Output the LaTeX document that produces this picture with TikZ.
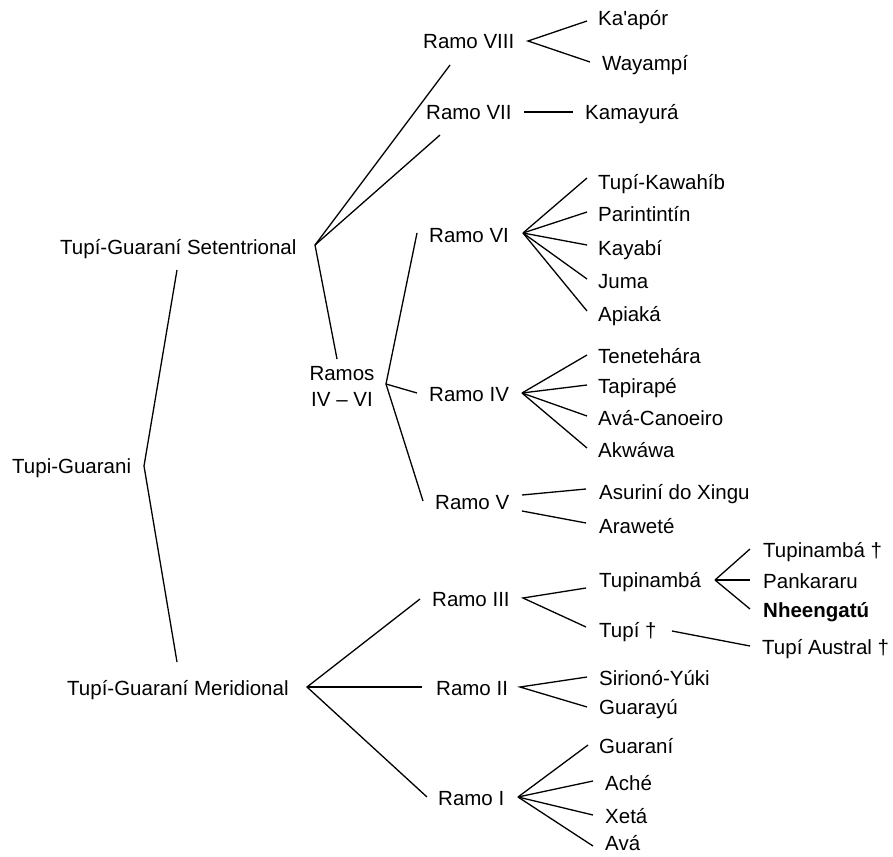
\documentclass[tikz,border=0pt]{standalone}
\usepackage{fontspec}
\newfontfamily\arialf{Liberation Sans}
\begin{document}
\begin{tikzpicture}[x=1pt,y=-1pt,
  lbl/.style={anchor=west,inner sep=0pt,text height=14pt,text depth=0pt,font=\arialf\fontsize{20.5}{24}\selectfont},
  ln/.style={line width=1.3pt,line join=miter}]
\useasboundingbox (0,0) rectangle (893,856);
% nodes
\node[lbl] (tg) at (12,466) {Tupi-Guarani};
\node[lbl] (set) at (60,247) {Tupí-Guaraní Setentrional};
\node[lbl] (mer) at (67,688) {Tupí-Guaraní Meridional};
\node[lbl] (r8) at (423,42) {Ramo VIII};
\node[lbl] (r7) at (426,112) {Ramo VII};
\node[lbl] (r6) at (429,235) {Ramo VI};
\node[inner sep=0pt,align=center,font=\arialf\fontsize{20.5}{26}\selectfont] (r46) at (342,386) {Ramos\\IV – VI};
\node[lbl] (r4) at (429,394) {Ramo IV};
\node[lbl] (r5) at (435,502) {Ramo V};
\node[lbl] (r3) at (432,599) {Ramo III};
\node[lbl] (r2) at (436,688) {Ramo II};
\node[lbl] (r1) at (438,798) {Ramo I};
\node[lbl] (kaapor) at (598,19) {Ka'apór};
\node[lbl] (wayampi) at (602,64) {Wayampí};
\node[lbl] (kamayura) at (585,112) {Kamayurá};
\node[lbl] (tk) at (598,182) {Tupí-Kawahíb};
\node[lbl] (parin) at (598,214) {Parintintín};
\node[lbl] (kayabi) at (598,248) {Kayabí};
\node[lbl] (juma) at (598,281) {Juma};
\node[lbl] (apiaka) at (598,314) {Apiaká};
\node[lbl] (tenet) at (598,356) {Tenetehára};
\node[lbl] (tapir) at (598,386) {Tapirapé};
\node[lbl] (avac) at (598,418) {Avá-Canoeiro};
\node[lbl] (akw) at (598,450) {Akwáwa};
\node[lbl] (asur) at (599,492) {Asuriní do Xingu};
\node[lbl] (araw) at (599,526) {Araweté};
\node[lbl] (tupinamba) at (599,580) {Tupinambá};
\node[lbl] (tupi) at (599,630) {Tupí †};
\node[lbl] (tupb) at (763,550) {Tupinambá †};
\node[lbl] (pank) at (763,581) {Pankararu};
\node[lbl] (nheen) at (763,610) {\bfseries Nheengatú};
\node[lbl] (austral) at (762,647) {Tupí Austral †};
\node[lbl] (sir) at (599,678) {Sirionó-Yúki};
\node[lbl] (guarayu) at (599,707) {Guarayú};
\node[lbl] (guarani) at (599,746) {Guaraní};
\node[lbl] (ache) at (605,783) {Aché};
\node[lbl] (xeta) at (605,816) {Xetá};
\node[lbl] (ava) at (605,843) {Avá};
% coordinates
\coordinate (vtg) at (144,466);
\coordinate (tgA) at (177,270); \coordinate (tgB) at (177,662);
\coordinate (vset) at (315,245);
\coordinate (setA) at (450,65); \coordinate (setB) at (440,135); \coordinate (setC) at (337,359);
\coordinate (v8) at (528,41);
\coordinate (e8a) at (587,21); \coordinate (e8b) at (590,62);
\coordinate (s7) at (524,112); \coordinate (e7) at (573,112);
\coordinate (v6) at (523,233);
\coordinate (e6a) at (587,178); \coordinate (e6b) at (587,212); \coordinate (e6c) at (587,245);
\coordinate (e6d) at (587,279); \coordinate (e6e) at (587,311);
\coordinate (v46) at (386,384);
\coordinate (e46a) at (417,233); \coordinate (e46b) at (417,393); \coordinate (e46c) at (423,501);
\coordinate (v4) at (522,393);
\coordinate (e4a) at (587,355); \coordinate (e4b) at (587,385); \coordinate (e4c) at (587,416); \coordinate (e4d) at (587,448);
\coordinate (s5a) at (522,495); \coordinate (e5a) at (586,489);
\coordinate (s5b) at (522,511); \coordinate (e5b) at (586,523);
\coordinate (v3) at (523,598);
\coordinate (e3a) at (586,588); \coordinate (e3b) at (586,627);
\coordinate (stp) at (672,631); \coordinate (etp) at (750,646);
\coordinate (vtn) at (715,580);
\coordinate (etna) at (750,549); \coordinate (etnb) at (750,580); \coordinate (etnc) at (750,609);
\coordinate (vmer) at (307,687);
\coordinate (emA) at (420,599); \coordinate (emB) at (422,687); \coordinate (emC) at (427,797);
\coordinate (v2) at (520,687);
\coordinate (e2a) at (587,677); \coordinate (e2b) at (587,707);
\coordinate (v1) at (518,797);
\coordinate (e1a) at (588,745); \coordinate (e1b) at (593,781); \coordinate (e1c) at (593,815); \coordinate (e1d) at (593,846);
% connectors
\draw[ln] (tgA) -- (vtg) -- (tgB);
\draw[ln] (setA) -- (vset) -- (setC);
\draw[ln] (vset) -- (setB);
\draw[ln] (e8a) -- (v8) -- (e8b);
\draw[ln] (s7) -- (e7);
\foreach \e in {e6a,e6b,e6c,e6d,e6e} \draw[ln] (v6) -- (\e);
\draw[ln] (e46a) -- (v46) -- (e46c);
\draw[ln] (v46) -- (e46b);
\foreach \e in {e4a,e4b,e4c,e4d} \draw[ln] (v4) -- (\e);
\draw[ln] (s5a) -- (e5a);
\draw[ln] (s5b) -- (e5b);
\draw[ln] (e3a) -- (v3) -- (e3b);
\draw[ln] (stp) -- (etp);
\foreach \e in {etna,etnb,etnc} \draw[ln] (vtn) -- (\e);
\draw[ln] (emA) -- (vmer) -- (emC);
\draw[ln] (vmer) -- (emB);
\draw[ln] (e2a) -- (v2) -- (e2b);
\foreach \e in {e1a,e1b,e1c,e1d} \draw[ln] (v1) -- (\e);
\end{tikzpicture}
\end{document}
